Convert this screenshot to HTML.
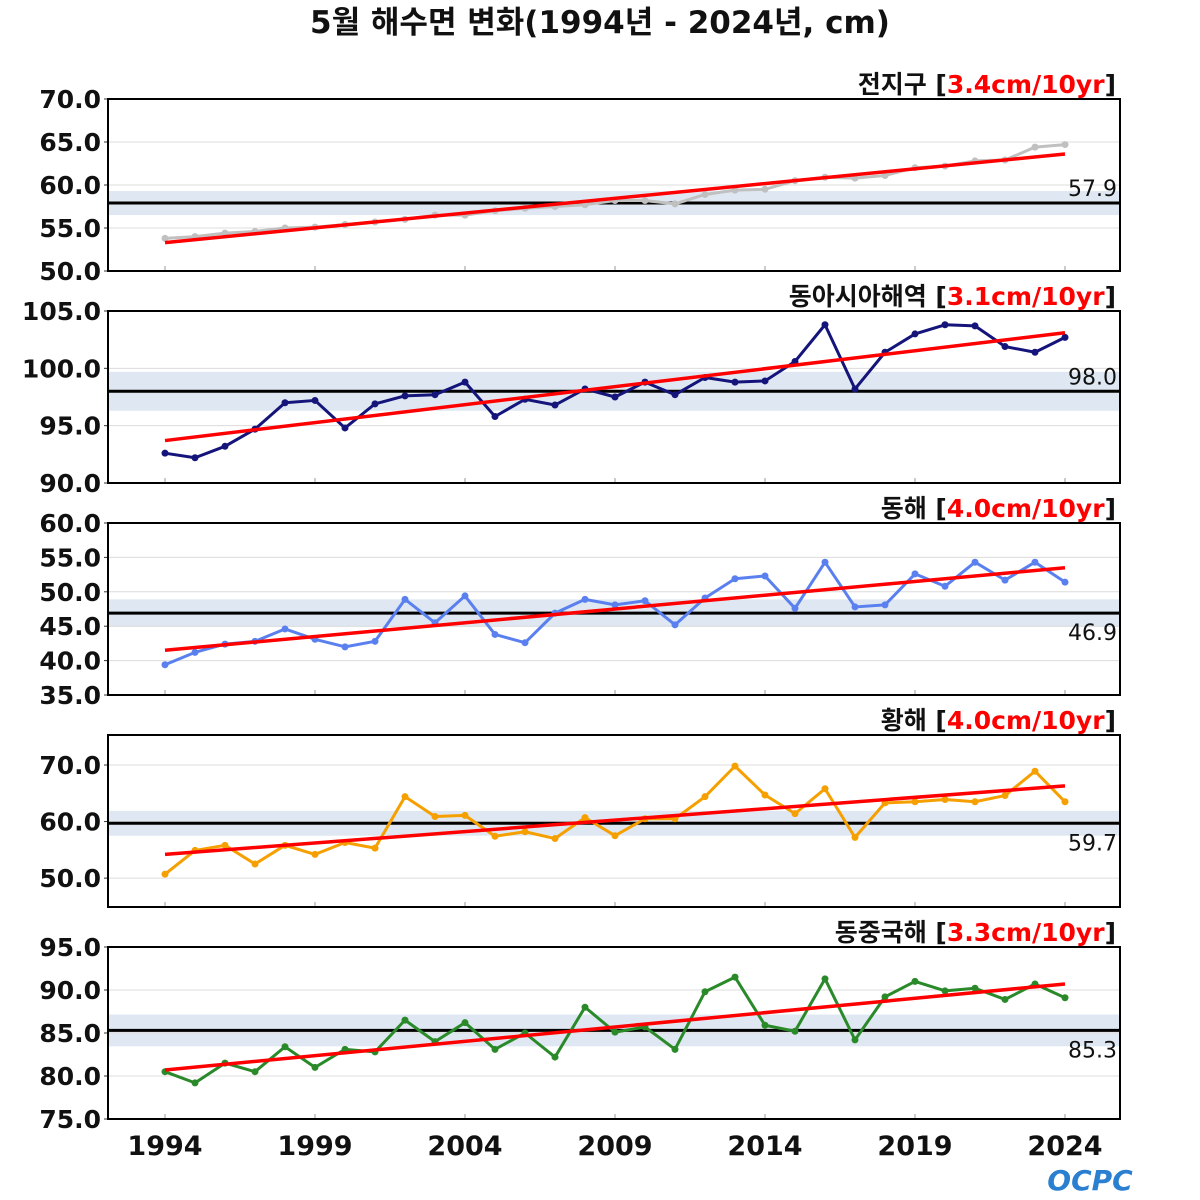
<!DOCTYPE html>
<html><head><meta charset="utf-8">
<style>
html,body{margin:0;padding:0;background:#fff;}
svg{display:block;font-family:"DejaVu Sans","Noto Sans CJK KR",sans-serif;}
</style></head>
<body>
<svg id="chart" width="1200" height="1200" viewBox="0 0 1200 1200" xmlns="http://www.w3.org/2000/svg">
<text x="600" y="33" text-anchor="middle" font-size="31" font-weight="bold" fill="#111">5월 해수면 변화(1994년 - 2024년, cm)</text>
<g id="panels"></g>
<g id="xlabels"></g>
<text x="1090" y="1190" text-anchor="middle" font-size="28" font-weight="bold" fill="#2a7fd0" font-style="italic">OCPC</text>
</svg>
<script>
const years = [];
for (let y = 1994; y <= 2024; y++) years.push(y);
const xTickYears = [1994, 1999, 2004, 2009, 2014, 2019, 2024];

const globalVals = [53.8,54.0,54.4,54.6,55.0,55.1,55.4,55.7,56.0,56.5,56.5,57.0,57.3,57.5,57.7,58.2,58.2,57.8,58.9,59.4,59.5,60.5,60.9,60.8,61.1,62.0,62.2,62.8,62.9,64.4,64.7];
const eastAsiaVals = [92.6,92.2,93.2,94.7,97.0,97.2,94.8,96.9,97.6,97.7,98.8,95.8,97.3,96.8,98.2,97.5,98.8,97.7,99.2,98.8,98.9,100.6,103.8,98.2,101.4,103.0,103.8,103.7,101.9,101.4,102.7];
const eastSeaVals = [39.4,41.2,42.4,42.8,44.6,43.1,42.0,42.8,48.9,45.5,49.4,43.8,42.6,46.9,48.9,48.1,48.7,45.2,49.1,51.9,52.3,47.6,54.3,47.8,48.1,52.6,50.8,54.3,51.7,54.3,51.4];
const yellowSeaVals = [50.7,54.9,55.8,52.5,55.8,54.2,56.3,55.3,64.4,60.9,61.1,57.4,58.2,57.0,60.7,57.5,60.5,60.5,64.4,69.8,64.7,61.4,65.8,57.2,63.3,63.5,63.9,63.5,64.6,68.9,63.5];
const ecsVals = [80.5,79.2,81.5,80.5,83.4,81.0,83.1,82.8,86.5,84.0,86.2,83.1,85.0,82.2,88.0,85.1,85.7,83.1,89.8,91.5,85.9,85.2,91.3,84.2,89.2,91.0,89.9,90.2,88.9,90.7,89.1];

const panelNames = ["전지구","동아시아해역","동해","황해","동중국해"];
const panelRates = ["3.4","3.1","4.0","4.0","3.3"];
const panelMeans = [57.9, 98.0, 46.9, 59.7, 85.3];
const panelBands = [1.4, 1.7, 2.0, 2.2, 1.85];
const trendStart = [53.3, 93.7, 41.5, 54.2, 80.7];
const trendEnd = [63.6, 103.1, 53.5, 66.3, 90.7];
const panelTicks = [[50,55,60,65,70],[90,95,100,105],[35,40,45,50,55,60],[50,60,70],[75,80,85,90,95]];
const panelDomains = [[50,70],[90,105],[35,60],[44.9,75.3],[75,95]];
const seriesList = [globalVals, eastAsiaVals, eastSeaVals, yellowSeaVals, ecsVals];
const colors = ["#c0c0c0","#14147a","#5a80f0","#f5a000","#2a8a2a"];
const meanLabelAbove = [true, true, false, false, false];

const NS = "http://www.w3.org/2000/svg";
const X0 = 108, X1 = 1120;
const panelTops = [99, 311, 523, 735, 947];
const PH = 172;
function xScale(yr){ return 165 + (yr - 1994) * 30; }
function mk(tag, attrs, parent){ const e = document.createElementNS(NS, tag); for (const k in attrs) e.setAttribute(k, attrs[k]); parent.appendChild(e); return e; }

const root = document.getElementById("panels");
for (let p = 0; p < 5; p++) {
  const top = panelTops[p], bot = top + PH;
  const [d0, d1] = panelDomains[p];
  const yS = v => bot - (v - d0) / (d1 - d0) * PH;
  const g = mk("g", {}, root);
  
  
  const band = mk("rect", {x:X0, y:yS(panelMeans[p]+panelBands[p]), width:X1-X0, height:yS(panelMeans[p]-panelBands[p])-yS(panelMeans[p]+panelBands[p]), fill:"#dfe8f2"}, g);
  
  
  panelTicks[p].forEach(t => {
    const y = yS(t);
    if (y > top + 2 && y < bot - 2) mk("line", {x1:X0, x2:X1, y1:y, y2:y, stroke:"#dcdcdc", "stroke-width":1}, g);
    mk("line", {x1:X0-4, x2:X0, y1:y, y2:y, stroke:"#333", "stroke-width":1}, g);
    const tl = mk("text", {x:101, y:y+9, "text-anchor":"end", "font-size":25, "font-weight":"bold", fill:"#111"}, g);
    tl.textContent = t.toFixed(1);
    
    
  });
  xTickYears.forEach(yr => mk("line", {x1:xScale(yr), x2:xScale(yr), y1:bot-5, y2:bot, stroke:"#999", "stroke-width":1}, g));
  const ml = mk("line", {x1:X0, x2:X1, y1:yS(panelMeans[p]), y2:yS(panelMeans[p]), stroke:"#000", "stroke-width":3}, g);
  
  
  const mt = mk("text", {x:1117, y: meanLabelAbove[p] ? yS(panelMeans[p]) - 7 : yS(panelMeans[p]) + 27, "text-anchor":"end", "font-size":22, fill:"#111"}, g);
  mt.textContent = panelMeans[p].toFixed(1);
  
  
  const vals = seriesList[p];
  const pts = vals.map((v,i) => xScale(years[i]) + "," + yS(v)).join(" ");
  const pl = mk("polyline", {points:pts, fill:"none", stroke:colors[p], "stroke-width":3, "stroke-linejoin":"round"}, g);
  
  
  vals.forEach((v,i) => {
    const c = mk("circle", {cx:xScale(years[i]), cy:yS(v), r:3.5, fill:colors[p]}, g);
    
    
  });
  const tr = mk("line", {x1:xScale(1994), x2:xScale(2024), y1:yS(trendStart[p]), y2:yS(trendEnd[p]), stroke:"#ff0000", "stroke-width":3.5}, g);
  
  
  mk("rect", {x:X0, y:top, width:X1-X0, height:PH, fill:"none", stroke:"#000", "stroke-width":2}, g);
  const tt = mk("text", {x:1116, y:top-6, "text-anchor":"end", "font-size":25, "font-weight":"bold", fill:"#111"}, g);
  
  
  const s1 = mk("tspan", {}, tt); s1.textContent = panelNames[p] + " [";
  const s2 = mk("tspan", {fill:"#ff0000"}, tt); s2.textContent = panelRates[p] + "cm/10yr";
  const s3 = mk("tspan", {}, tt); s3.textContent = "]";
}
const xl = document.getElementById("xlabels");
xTickYears.forEach(yr => {
  const t = mk("text", {x:xScale(yr), y:1155, "text-anchor":"middle", "font-size":27, "font-weight":"bold", fill:"#111"}, xl);
  t.textContent = yr;
  
  
});
</script>
</body></html>
